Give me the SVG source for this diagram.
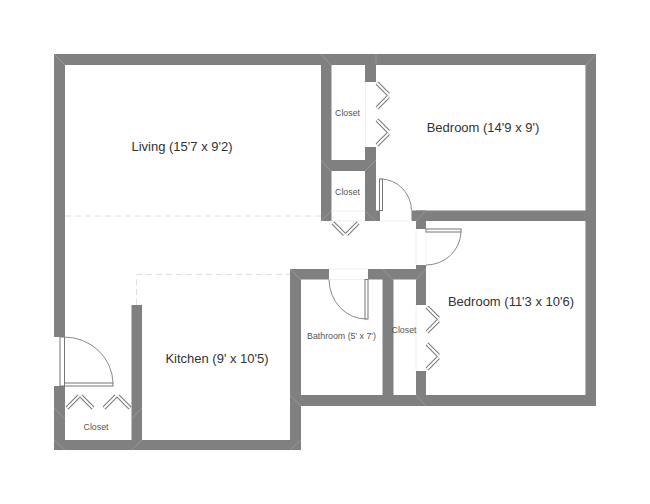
<svg xmlns="http://www.w3.org/2000/svg" width="650" height="504" viewBox="0 0 650 504">
<defs>
<style>
.wall{fill:#808080}
.mitre{stroke:#a2a2a2;stroke-width:.7;fill:none}
.dash{stroke:#dedede;stroke-width:1;stroke-dasharray:6 4;fill:none}
.open{stroke:#f0f0f0;stroke-width:1;fill:none}
.arc{stroke:#8a8a8a;stroke-width:1;fill:none}
.panel{fill:#fff;stroke:#777;stroke-width:1}
.fo{stroke:#777;stroke-width:4;fill:none}
.fi{stroke:#fff;stroke-width:2;fill:none}
text{font-family:"Liberation Sans",Arial,sans-serif;text-anchor:middle;fill:#333}
.l{font-size:13px}
.s{font-size:8.800px;fill:#555}
</style>
</defs>
<rect width="650" height="504" fill="#fff"/>
<g id="walls">
<rect class="wall" x="54" y="54" width="542" height="11"/>
<rect class="wall" x="54" y="54" width="11" height="283"/>
<rect class="wall" x="54" y="386" width="11" height="64"/>
<rect class="wall" x="54" y="440" width="247" height="10"/>
<rect class="wall" x="131.500" y="305" width="10.500" height="145"/>
<rect class="wall" x="290" y="269" width="11" height="181"/>
<rect class="wall" x="290" y="395" width="306" height="11"/>
<rect class="wall" x="585.500" y="54" width="10.500" height="352"/>
<rect class="wall" x="321" y="54" width="10.500" height="167"/>
<rect class="wall" x="365" y="54" width="11" height="28"/>
<rect class="wall" x="365" y="147" width="11" height="74"/>
<rect class="wall" x="365" y="210.500" width="15" height="10.500"/>
<rect class="wall" x="321" y="160" width="55" height="11"/>
<rect class="wall" x="411.500" y="210.500" width="184.500" height="10.500"/>
<rect class="wall" x="416" y="210.500" width="10" height="18.500"/>
<rect class="wall" x="290" y="269" width="39" height="10.500"/>
<rect class="wall" x="368" y="269" width="58" height="10.500"/>
<rect class="wall" x="382.500" y="269" width="11" height="126"/>
<rect class="wall" x="416" y="265" width="10" height="40"/>
<rect class="wall" x="416" y="371" width="10" height="35"/>
</g>
<g id="wall-joints">
<path class="mitre" d="M54 54L65 65M596 54L586 65M321 54L331 65M376 54V65M321 160L331 171M376 160L365 171M321 221L331 211M376 221L365 211M426 210.500L416 221M290 269L301 280M382.500 269L393 280M426 269L416 280M290 395L301 406M290 450L301 440M426 406L416 395M54 408L65 419M131.500 450L142 440M142 408L131.500 419M54 440L65 450"/>
</g>
<g id="floor-lines">
<line class="dash" x1="65" y1="216" x2="321" y2="216"/>
<polyline class="dash" points="136.500,305 136.500,274.500 290,274.500"/>
<path class="open" d="M365.500 82V147M331.500 211H365M331.500 221H365M380 221H411.500M416 229V265M426 229V265M329 269H368M329 279.500H368M416 305V371"/>
</g>
<g id="connectors">
<g id="door-bedroom-1">
<rect class="panel" x="379.500" y="179" width="3" height="31.500"/>
<path class="arc" d="M381 179A31 32 0 0 1 411.500 210.500"/>
</g>
<g id="door-bedroom-2">
<rect class="panel" x="426" y="229" width="35" height="3"/>
<path class="arc" d="M461 232A35 34 0 0 1 426 265"/>
</g>
<g id="door-bathroom">
<rect class="panel" x="365" y="279.500" width="3" height="39.500"/>
<path class="arc" d="M329 279.500A37 40 0 0 0 366.500 319"/>
</g>
<g id="door-entry">
<rect class="panel" x="60" y="337" width="4.500" height="49"/>
<rect class="panel" x="64.500" y="383" width="48.500" height="3"/>
<path class="arc" d="M64 337A49 47 0 0 1 113 383"/>
</g>
<g id="folds">
<path class="fo" d="M377 83L388.500 94.500M388.500 96.500L377 108M377 120L388.500 131.500M388.500 133.500L377 145"/>
<path class="fi" d="M377 83L388.500 94.500M388.500 96.500L377 108M377 120L388.500 131.500M388.500 133.500L377 145"/>
<path class="fo" d="M427 307L438.500 318.500M438.500 320.500L427 332M427 344L438.500 355.500M438.500 357.500L427 369"/>
<path class="fi" d="M427 307L438.500 318.500M438.500 320.500L427 332M427 344L438.500 355.500M438.500 357.500L427 369"/>
<path class="fo" d="M333 223L344.500 234.500M346.500 234.500L358 223"/>
<path class="fi" d="M333 223L344.500 234.500M346.500 234.500L358 223"/>
<path class="fo" d="M67 408L79 396M81 396L93 408M104 408L116 396M118 396L130 408"/>
<path class="fi" d="M67 408L79 396M81 396L93 408M104 408L116 396M118 396L130 408"/>
</g>
</g>
<g id="living"><text class="l" x="182" y="151">Living (15'7 x 9'2)</text></g>
<g id="bedroom-1"><text class="l" x="483" y="132">Bedroom (14'9 x 9')</text></g>
<g id="bedroom-2"><text class="l" x="511" y="306">Bedroom (11'3 x 10'6)</text></g>
<g id="kitchen"><text class="l" x="217" y="363">Kitchen (9' x 10'5)</text></g>
<g id="bathroom"><text class="s" x="341.500" y="339">Bathroom (5' x 7')</text></g>
<g id="closet-1"><text class="s" x="347.500" y="116">Closet</text></g>
<g id="closet-2"><text class="s" x="347.500" y="195">Closet</text></g>
<g id="closet-3"><text class="s" x="404" y="333">Closet</text></g>
<g id="closet-4"><text class="s" x="96" y="430">Closet</text></g>
</svg>
